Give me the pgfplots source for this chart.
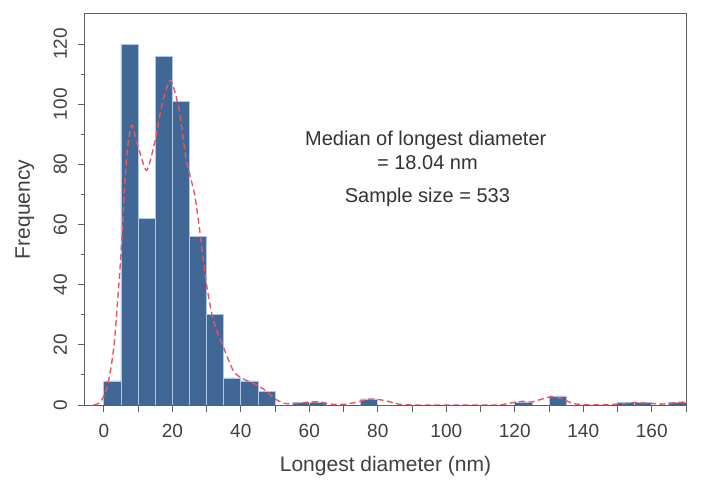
\documentclass[border=0pt]{standalone}
\usepackage{pgfplots}
\pgfplotsset{compat=1.18}
\usepackage{fontspec}
\setmainfont{Liberation Sans}
\definecolor{barblue}{RGB}{64,103,150}
\definecolor{barline}{RGB}{175,200,230}
\definecolor{curvered}{RGB}{235,85,95}
\definecolor{framegray}{RGB}{95,95,95}
\begin{document}
\begin{tikzpicture}
\begin{axis}[name=ax, scale only axis, width=601pt, height=391pt,
 xmin=-5.5, xmax=170, ymin=0, ymax=130,
 xtick={0,10,...,170}, xticklabels={0,,20,,40,,60,,80,,100,,120,,140,,160,},
 ytick={0,20,...,120}, minor ytick={10,30,...,110},
 tick pos=left, tick align=outside,
 major tick length=6.5pt, minor tick length=3.5pt,
 axis line style={framegray, line width=1pt},
 tick style={framegray, line width=0.9pt},
 axis on top,
 /pgf/number format/assume math mode=true,
 tick label style={font=\fontsize{19}{22}\selectfont, text=black!75},
 yticklabel style={rotate=90, anchor=south},
 xticklabel shift=9pt, yticklabel shift=8pt,
 label style={font=\fontsize{21}{25}\selectfont, text=black!75},
 xlabel={Longest diameter (nm)}, ylabel={Frequency},
 xlabel style={at={(axis description cs:0.5,-0.156)}, anchor=center},
 ylabel style={at={(axis description cs:-0.1,0.5)}, anchor=center},
]
\addplot[ybar, bar width=5, bar shift=0pt, fill=barblue, draw=barline, line width=0.8pt]
 coordinates {(2.5,8) (7.5,120) (12.5,62) (17.5,116) (22.5,101) (27.5,56) (32.5,30)
 (37.5,9) (42.5,8) (47.5,4.5) (57.5,0.7) (62.5,1) (77.5,2) (122.5,1) (132.5,3)
 (152.5,0.7) (157.5,0.7) (167.5,0.8)};
\addplot[curvered, line width=1.4pt, dash pattern=on 6pt off 3.5pt, smooth, tension=0.4]
 coordinates {(-3,0) (-1,1) (1,6) (3,20) (5,50) (6.5,80) (8,93) (10,86) (12.5,78)
 (15,88) (17,100) (19.5,108) (22,98) (24,82) (26.5,70) (28,58) (30,40) (32,28)
 (35,19) (38,11) (41,8.5) (44,7) (47,5) (50,2) (53,0.5) (56,0.5) (60,1) (63,1)
 (66,0.3) (70,0.2) (74,1) (78,2) (82,1.5) (86,0.3) (90,0) (100,0) (115,0)
 (118,0.5) (122,1.2) (125,1) (128,2) (131,2.8) (134,2) (137,0.5) (142,0)
 (150,0.3) (155,0.8) (160,0.5) (163,0.3) (167,0.8) (170,1)};
\node[font=\fontsize{20}{24}\selectfont, text=black!80] at (axis cs:94,88) {Median of longest diameter};
\node[font=\fontsize{20}{24}\selectfont, text=black!80] at (axis cs:94.5,80.5) {= 18.04 nm};
\node[font=\fontsize{20}{24}\selectfont, text=black!80] at (axis cs:94.5,69) {Sample size = 533};
\end{axis}
\path (ax.south west) +(-85pt,-74pt) (ax.north east) +(15pt,14pt);
\end{tikzpicture}
\end{document}
